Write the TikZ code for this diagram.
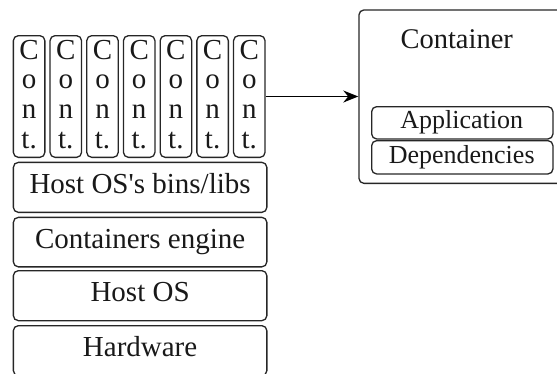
\documentclass[tikz,border=0pt]{standalone}
\usepackage{fontspec}
\setmainfont{Liberation Serif}
\usetikzlibrary{arrows.meta}
\begin{document}
\begin{tikzpicture}[x=1pt,y=-1pt,
  box/.style={draw=black!85, line width=1.3pt, rounded corners=5pt, inner sep=0pt},
  lbl/.style={font=\fontsize{29}{30}\selectfont, text=black!90, inner sep=0pt, anchor=base},
  slbl/.style={font=\fontsize{26}{27}\selectfont, text=black!90, inner sep=0pt, anchor=base}]
\useasboundingbox (0,0) rectangle (557,373);
\clip (0,0) rectangle (557,373);
% container stacks
\foreach \i in {1,...,7}{
  \pgfmathsetmacro\xl{12.7+36.7*(\i-1)}
  \node[box, anchor=north west, minimum width=31.5pt, minimum height=121.7pt] (c\i) at (\xl,35) {};
  \path (c\i.north) ++(0,24) node[lbl] (c\i a) {C}
        ++(0,29.7) node[lbl] (c\i b) {o}
        ++(0,29.7) node[lbl] (c\i c) {n}
        ++(0,29.7) node[lbl] (c\i d) {t.};
}
% layers
\node[box, anchor=north west, minimum width=253.5pt, minimum height=50pt] (bins) at (12.7,161.7) {};
\node[lbl] (binsT) at ([yshift=-31.7pt]bins.north) {Host OS\textquotesingle s bins/libs};
\node[box, anchor=north west, minimum width=253.5pt, minimum height=49.5pt] (eng) at (12.7,216.7) {};
\node[lbl] (engT) at ([yshift=-31.5pt]eng.north) {Containers engine};
\node[box, anchor=north west, minimum width=253.5pt, minimum height=50pt] (host) at (12.7,270) {};
\node[lbl] (hostT) at ([yshift=-31.7pt]host.north) {Host OS};
\node[box, anchor=north west, minimum width=253.5pt, minimum height=50pt] (hw) at (12.7,325) {};
\node[lbl] (hwT) at ([yshift=-31.7pt]hw.north) {Hardware};
% container detail
\node[box, anchor=north west, minimum width=250pt, minimum height=173.4pt] (cont) at (358.3,9.3) {};
\node[lbl, font=\fontsize{28.5}{30}\selectfont] (contT) at (456.7,48.3) {Container};
\node[box, anchor=north west, minimum width=181.3pt, minimum height=32.3pt] (app) at (371,106) {};
\node[slbl] (appT) at (461.7,128.3) {Application};
\node[box, anchor=north west, minimum width=181.3pt, minimum height=33.3pt] (dep) at (371,140) {};
\node[slbl] (depT) at (461.7,163.3) {Dependencies};
% arrow
\draw[line width=1.4pt, -{Stealth[length=15pt,width=12pt]}] (c7.east) -- (c7.east -| cont.west);
\end{tikzpicture}
\end{document}
